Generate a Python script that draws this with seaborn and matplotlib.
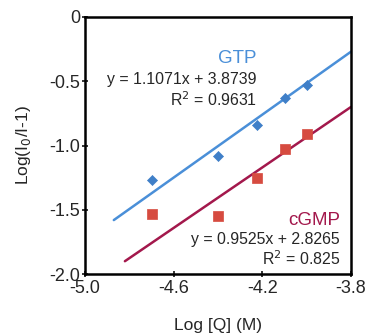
import numpy as np
import pandas as pd
import matplotlib
matplotlib.use('Agg')
import matplotlib.pyplot as plt
import seaborn as sns

# data -----------------------------------------------------
log_q = [-4.699, -4.398, -4.222, -4.097, -4.000]
gtp_y = [-1.27, -1.08, -0.84, -0.63, -0.53]
cgmp_y = [-1.53, -1.55, -1.25, -1.03, -0.91]

# trendlines as drawn (excel style, extended)
gtp_fit_x = [-4.87, -3.80]
gtp_fit_y = [-1.58, -0.27]
cgmp_fit_x = [-4.82, -3.80]
cgmp_fit_y = [-1.90, -0.70]

x_ticks = [-5.0, -4.6, -4.2, -3.8]
y_ticks = [-2.0, -1.5, -1.0, -0.5, 0.0]

blue = '#4a8fd8'
blue_pt = '#3f7fc8'
crimson = '#a3184c'
red_pt = '#d64b40'

sns.set_style('ticks')
plt.rcParams['font.family'] = ['Liberation Sans', 'DejaVu Sans']

fig = plt.figure(figsize=(3.72, 3.33), dpi=100)
ax = fig.add_axes([0.2285, 0.177, 0.715, 0.772])

pts = pd.DataFrame({'x': log_q, 'gtp': gtp_y, 'cgmp': cgmp_y})

sns.lineplot(x=gtp_fit_x, y=gtp_fit_y, ax=ax, color=blue, linewidth=1.8)
sns.lineplot(x=cgmp_fit_x, y=cgmp_fit_y, ax=ax, color=crimson, linewidth=1.8)
sns.scatterplot(data=pts, x='x', y='gtp', ax=ax, marker='D', s=26,
                color=blue_pt, edgecolor=blue_pt, linewidth=0.5, zorder=3)
sns.scatterplot(data=pts, x='x', y='cgmp', ax=ax, marker='s', s=55,
                color=red_pt, edgecolor=red_pt, linewidth=0.5, zorder=3)

ax.set_xlim(-5.0, -3.8)
ax.set_ylim(-2.0, 0.0)
ax.set_xticks(x_ticks)
ax.set_xticklabels(['%.1f' % v for v in x_ticks])
ax.set_yticks(y_ticks)
ax.set_yticklabels(['%.1f' % v if v != 0 else '0' for v in y_ticks])
ax.tick_params(direction='inout', length=5, width=1.3, labelsize=13)
ax.tick_params(axis='x', pad=2)
ax.tick_params(axis='y', pad=1)

for sp in ax.spines.values():
    sp.set_visible(True)
    sp.set_linewidth(1.8)
    sp.set_color('black')

ax.set_xlabel('Log [Q] (M)', fontsize=12.5, labelpad=15)
ax.set_ylabel('Log(I$_0$/I-1)', fontsize=12.5, labelpad=12)

# trendline labels
ax.text(-4.225, -0.32, 'GTP', color=blue, fontsize=13.5, ha='right', va='center')
ax.text(-4.225, -0.49, 'y = 1.1071x + 3.8739', fontsize=11.4, ha='right', va='center')
ax.text(-4.225, -0.646, 'R$^2$ = 0.9631', fontsize=11.4, ha='right', va='center')
ax.text(-3.85, -1.58, 'cGMP', color=crimson, fontsize=13.5, ha='right', va='center')
ax.text(-3.85, -1.728, 'y = 0.9525x + 2.8265', fontsize=11.4, ha='right', va='center')
ax.text(-3.85, -1.883, 'R$^2$ = 0.825', fontsize=11.4, ha='right', va='center')

fig.savefig('out.png', dpi=100)
